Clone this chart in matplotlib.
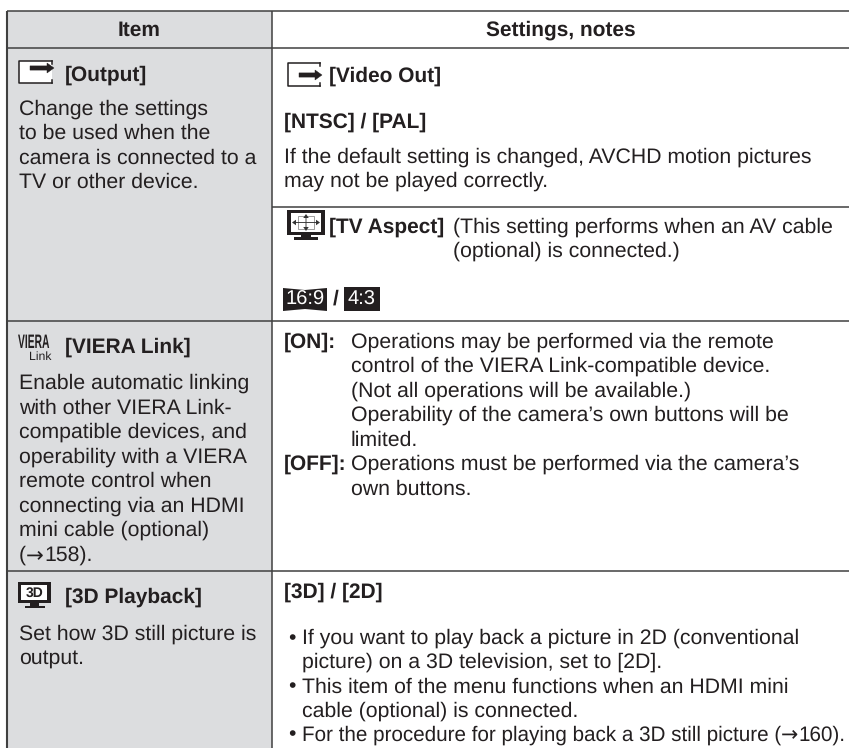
from __future__ import annotations

import matplotlib
matplotlib.use("Agg")
import matplotlib.pyplot as plt
from matplotlib.patches import FancyArrow, Polygon, Rectangle
from matplotlib.patheffects import AbstractPathEffect
from matplotlib.transforms import Affine2D

plt.rcParams["text.hinting"] = "no_hinting"

W, H = 849, 748
GREY = "#DCDDDF"
LINE = "#404040"
INK = "#231F20"
FONT = "Liberation Sans"
SIZE = 15.33
SIZE_B = 15.05
SIZE_TIGHT = 14.9  # the last line is set tighter in the reference

# table grid, in reference pixels
LEFT, MID, RIGHT = 7, 272, 849
ROW_Y = [10.5, 48, 320.5, 571, 748]
SPLIT_Y = 207

HEADERS = ["Item", "Settings, notes"]

# (x, baseline y, text, bold)
LEFT_TEXT = [
    (65, 81, "[Output]", True),
    (19, 115, "Change the settings", False),
    (19, 139, "to be used when the", False),
    (19, 164, "camera is connected to a", False),
    (19, 188, "TV or other device.", False),
    (65, 353, "[VIERA Link]", True),
    (19, 389, "Enable automatic linking", False),
    (19, 414, "with other VIERA Link-", False),
    (19, 438, "compatible devices, and", False),
    (19, 463, "operability with a VIERA", False),
    (19, 487, "remote control when", False),
    (19, 512, "connecting via an HDMI", False),
    (19, 536, "mini cable (optional)", False),
    (19, 561, "(\u2192158).", False),
    (65, 603, "[3D Playback]", True),
    (19, 640, "Set how 3D still picture is", False),
    (19, 664, "output.", False),
]
RIGHT_TEXT = [
    (329, 82, "[Video Out]", True),
    (284, 127.5, "[NTSC] / [PAL]", True),
    (284, 163, "If the default setting is changed, AVCHD motion pictures", False),
    (284, 187, "may not be played correctly.", False),
    (329, 233, "[TV Aspect]", True),
    (453, 233, "(This setting performs when an AV cable", False),
    (453, 257, "(optional) is connected.)", False),
    (333, 305, "/", True),
    (284, 348, "[ON]:", True),
    (351, 348, "Operations may be performed via the remote", False),
    (351, 372, "control of the VIERA Link-compatible device.", False),
    (351, 397, "(Not all operations will be available.)", False),
    (351, 421, "Operability of the camera\u2019s own buttons will be", False),
    (351, 446, "limited.", False),
    (284, 470, "[OFF]:", True),
    (351, 470, "Operations must be performed via the camera\u2019s", False),
    (351, 495, "own buttons.", False),
    (284, 598, "[3D] / [2D]", True),
    (288.5, 644, "\u2022", False),
    (302, 644, "If you want to play back a picture in 2D (conventional", False),
    (302, 668, "picture) on a 3D television, set to [2D].", False),
    (288.5, 692.5, "\u2022", False),
    (302, 692.5, "This item of the menu functions when an HDMI mini", False),
    (302, 716.5, "cable (optional) is connected.", False),
    (288.5, 740.5, "\u2022", False),
]
LAST_LINE = (302, 740.5, "For the procedure for playing back a 3D still picture (\u2192160).", False)


class Stretch(AbstractPathEffect):
    # scales the glyphs of a text about its own anchor
    def __init__(self, sx, sy):
        super().__init__()
        self.sx = sx
        self.sy = sy

    def draw_path(self, renderer, gc, tpath, affine, rgbFace=None):
        renderer.draw_path(gc, tpath, Affine2D().scale(self.sx, self.sy) + affine, rgbFace)


def hline(ax, y, x0, x1):
    ax.plot([x0, x1], [y, y], color=LINE, lw=1.1, solid_capstyle="butt")


def vline(ax, x, y0, y1, lw=1.1):
    ax.plot([x, x], [y0, y1], color=LINE, lw=lw, solid_capstyle="butt")


def put_text(ax, fig, x, y, s, size, bold):
    # the arrow sign is wider in the reference, so it gets its own font
    weight = "bold" if bold else "normal"
    parts = s.split("\u2192")
    renderer = fig.canvas.get_renderer()
    for i, part in enumerate(parts):
        t = ax.text(x, y, part, fontsize=size, family=FONT, fontweight=weight, color=INK, ha="left", va="baseline")
        if i < len(parts) - 1:
            x += t.get_window_extent(renderer).width
            a = ax.text(x, y, "\u2192", fontsize=size, family="DejaVu Sans", color=INK, ha="left", va="baseline")
            x += a.get_window_extent(renderer).width


def output_icon(ax, x, y, w, h, arrow_y):
    ax.add_patch(Rectangle((x, y), w, h, fc="white", ec="none"))
    ax.plot([x + w, x, x, x + w], [y, y, y + h, y + h], color=INK, lw=1.1)
    ax.plot([x + w, x + w], [y, y + 3], color=INK, lw=1.1)
    ax.plot([x + w, x + w], [y + h, y + h - 3], color=INK, lw=1.1)
    ax.add_patch(FancyArrow(x + 11, arrow_y, w - 9, 0, width=4.2, head_width=10,
                            head_length=7, length_includes_head=True, fc=INK, ec=INK, lw=0.3))


def aspect_icon(ax, x, y):
    ax.add_patch(Rectangle((x, y), 38, 25, fc=INK, ec="none"))
    ax.add_patch(Rectangle((x + 4, y + 3), 30, 19, fc="white", ec="none"))
    ax.add_patch(Rectangle((x + 11, y + 6), 16, 13, fc="none", ec="#777777", lw=0.5))
    cx, cy = x + 19, y + 12.5
    for dx, dy in [(-14, 0), (14, 0), (0, -8.5), (0, 8.5)]:
        ax.add_patch(FancyArrow(cx, cy, dx, dy, width=0.9, head_width=5.5, head_length=4,
                                length_includes_head=True, fc="#333333", ec="none"))
    ax.add_patch(Rectangle((x + 14, y + 25), 10, 2, fc=INK, ec="none"))
    ax.add_patch(Rectangle((x + 7, y + 27), 24, 2.5, fc=INK, ec="none"))


def ratio_badge(ax, x, y, w, h, label, curved):
    if curved:
        pts = [(x, y), (x + w / 2, y + 2), (x + w, y), (x + w, y + h), (x + w / 2, y + h - 2), (x, y + h)]
        ax.add_patch(Polygon(pts, fc=INK, ec="none"))
    else:
        ax.add_patch(Rectangle((x, y), w, h, fc=INK, ec="none"))
    ax.text(x + w / 2, y + h / 2 + 0.5, label, color="white", fontsize=14.5, family=FONT, ha="center", va="center")


def viera_icon(ax, x, y):
    t = ax.text(x, y, "VIERA", color=INK, fontsize=7.8, family=FONT, ha="left", va="baseline", fontweight="bold")
    t.set_path_effects([Stretch(0.95, 1.8)])
    ax.text(x + 11, y + 12, "Link", color=INK, fontsize=8.8, family=FONT, ha="left", va="baseline")


def tv_icon(ax, x, y):
    ax.add_patch(Rectangle((x, y), 33, 21, fc=INK, ec="none"))
    ax.add_patch(Rectangle((x + 3.5, y + 3), 26, 15, fc="white", ec="none"))
    ax.text(x + 16.5, y + 10.8, "3D", color=INK, fontsize=10, family=FONT, ha="center", va="center", fontweight="bold")
    ax.add_patch(Rectangle((x + 12, y + 21), 9, 2.5, fc=INK, ec="none"))
    ax.add_patch(Rectangle((x + 7, y + 23.5), 20, 2.5, fc=INK, ec="none"))


def main() -> None:
    fig = plt.figure(figsize=(W / 100, H / 100), dpi=100)
    ax = fig.add_axes([0, 0, 1, 1])
    ax.set_xlim(0, W)
    ax.set_ylim(H, 0)
    ax.axis("off")

    ax.add_patch(Rectangle((LEFT, ROW_Y[0]), MID - LEFT, H - ROW_Y[0], fc=GREY, ec="none"))

    for y in ROW_Y[:-1]:
        hline(ax, y, LEFT, RIGHT)
    hline(ax, SPLIT_Y, MID, RIGHT)
    vline(ax, LEFT, ROW_Y[0], H, lw=1.5)
    vline(ax, MID, ROW_Y[0], H)

    ax.text((LEFT + MID) / 2, 30, HEADERS[0], fontsize=SIZE_B, family=FONT, fontweight="bold", color=INK, ha="center", va="center")
    ax.text((MID + RIGHT) / 2, 30, HEADERS[1], fontsize=SIZE_B, family=FONT, fontweight="bold", color=INK, ha="center", va="center")

    for x, y, s, bold in LEFT_TEXT + RIGHT_TEXT:
        put_text(ax, fig, x, y, s, SIZE_B if bold else SIZE, bold)
    x, y, s, bold = LAST_LINE
    put_text(ax, fig, x, y, s, SIZE_TIGHT, bold)

    output_icon(ax, 19, 61, 33, 22, 68)
    output_icon(ax, 288, 63, 32, 23, 75)
    aspect_icon(ax, 287, 210)
    ratio_badge(ax, 283, 288, 44, 23, "16:9", True)
    ratio_badge(ax, 344, 287, 36, 24, "4:3", False)
    viera_icon(ax, 18, 348)
    tv_icon(ax, 18, 582)

    fig.savefig("out.png", dpi=100, facecolor="white")
    plt.close(fig)


if __name__ == "__main__":
    main()
